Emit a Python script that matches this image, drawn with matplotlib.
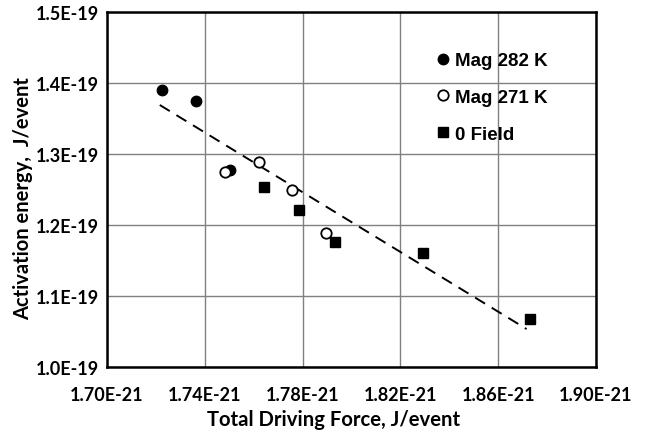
import matplotlib.pyplot as plt

# Total driving force (x, J/event) and activation energy (y, J/event)
mag282_x = [1.7223e-21, 1.7366e-21, 1.7502e-21]
mag282_y = [1.390e-19, 1.3746e-19, 1.2779e-19]

mag271_x = [1.7482e-21, 1.7622e-21, 1.7758e-21, 1.7897e-21]
mag271_y = [1.2751e-19, 1.2892e-19, 1.2493e-19, 1.1887e-19]

field0_x = [1.7641e-21, 1.7785e-21, 1.7931e-21, 1.8294e-21, 1.8729e-21]
field0_y = [1.2540e-19, 1.2211e-19, 1.1765e-19, 1.1601e-19, 1.0672e-19]

# linear trend line end points
trend_x = [1.7216e-21, 1.8716e-21]
trend_y = [1.3690e-19, 1.0535e-19]

xticks = [1.70e-21, 1.74e-21, 1.78e-21, 1.82e-21, 1.86e-21, 1.90e-21]
yticks = [1.0e-19, 1.1e-19, 1.2e-19, 1.3e-19, 1.4e-19, 1.5e-19]

fig = plt.figure(figsize=(6.47, 4.35), dpi=100)
ax = fig.add_axes([107/647, 1 - 368/435, 489/647, 355/435])

ax.plot(trend_x, trend_y, color='black', lw=1.4, dashes=(6, 4), zorder=2)

ax.plot(mag282_x, mag282_y, 'o', color='black', ms=7.5, ls='none',
        label='Mag 282 K', zorder=3)
ax.plot(mag271_x, mag271_y, 'o', mfc='white', mec='black', mew=1.3, ms=7.5,
        ls='none', label='Mag 271 K', zorder=3)
ax.plot(field0_x, field0_y, 's', color='black', ms=7.5, ls='none',
        label='0 Field', zorder=3)

ax.set_xlim(1.70e-21, 1.90e-21)
ax.set_ylim(1.0e-19, 1.5e-19)
ax.set_xticks(xticks)
ax.set_yticks(yticks)
ax.set_xticklabels(['%.2fE-21' % (v * 1e21) for v in xticks])
ax.set_yticklabels(['%.1fE-19' % (v * 1e19) for v in yticks])
ax.tick_params(axis='x', length=0, pad=14)
ax.tick_params(axis='y', length=0, pad=6)
for lab in ax.get_xticklabels() + ax.get_yticklabels():
    lab.set_fontfamily('Lato')
    lab.set_fontweight('bold')
    lab.set_fontsize(13)

ax.grid(True, color='#808080', lw=1.0)
ax.set_axisbelow(True)
for s in ax.spines.values():
    s.set_linewidth(1.8)
    s.set_color('black')

ax.set_xlabel('Total Driving Force, J/event', fontfamily='Lato',
              fontweight='bold', fontsize=14.6)
ax.xaxis.set_label_coords(0.464, -0.117)
ax.set_ylabel('Activation energy,  J/event', fontfamily='Lato',
              fontweight='bold', fontsize=14.5)
ax.yaxis.set_label_coords(-0.152, 0.476)

ax.legend(loc='upper left', bbox_to_anchor=(327/489, 1 - 40/355),
          frameon=False, handletextpad=0.1, handlelength=1.0,
          labelspacing=1.05, borderaxespad=0, borderpad=0,
          prop={'family': 'Liberation Sans', 'weight': 'bold', 'size': 13.5})

fig.savefig('out.png', dpi=100)
